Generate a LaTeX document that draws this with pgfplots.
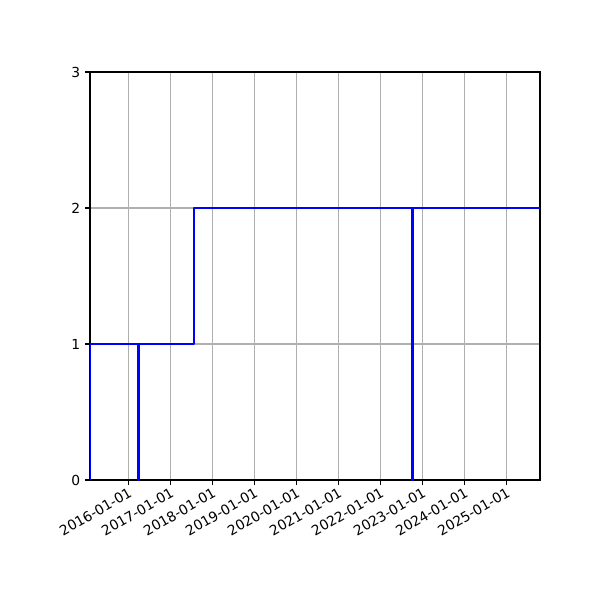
\documentclass[border=0pt]{standalone}
\usepackage{fontspec}
\setmainfont{DejaVu Sans}
\usepackage{pgfplots}
\pgfplotsset{compat=1.18}
\definecolor{gridgray}{HTML}{B0B0B0}

\begin{document}
\begin{tikzpicture}
\useasboundingbox (0,0) rectangle (433.62pt,433.62pt);
\begin{axis}[
    at={(65.04pt,86.72pt)},
    anchor=south west,
    scale only axis,
    width=325.2pt,
    height=294.86pt,
    xmin=2015.088, xmax=2025.80,
    ymin=0, ymax=3,
    xtick={2016,2017,2018,2019,2020,2021,2022,2023,2024,2025},
    xticklabels={2016-01-01,2017-01-01,2018-01-01,2019-01-01,2020-01-01,
                 2021-01-01,2022-01-01,2023-01-01,2024-01-01,2025-01-01},
    ytick={0,1,2,3},
    scaled x ticks=false,
    xtick pos=bottom,
    ytick pos=left,
    tick align=outside,
    major tick length=3.5pt,
    tick style={black, line width=0.8pt},
    axis line style={line width=0.8pt},
    grid=major,
    grid style={gridgray, line width=0.8pt},
    tick label style={font=\fontsize{10}{12}\selectfont},
    xticklabel style={rotate=30, anchor=north east, inner sep=1pt},
    /pgf/number format/assume math mode=true,
]
\addplot[blue, line width=1.5pt, line join=round] coordinates {
    (2015.088,0) (2015.088,1)
    (2016.238,1) (2016.238,0) (2016.262,0) (2016.262,1)
    (2017.564,1) (2017.564,2)
    (2022.752,2) (2022.752,0) (2022.766,0) (2022.766,2)
    (2025.80,2)
};
\end{axis}
\end{tikzpicture}
\end{document}
